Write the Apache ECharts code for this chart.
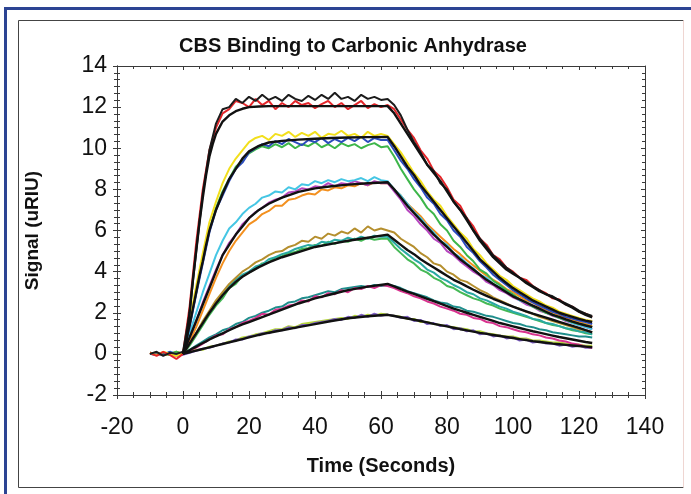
<!DOCTYPE html>
<html><head><meta charset="utf-8">
<script src="https://cdn.jsdelivr.net/npm/echarts@6/dist/echarts.min.js"></script>
<style>html,body{margin:0;padding:0;background:#fff}#c{width:691px;height:494px}</style>
</head><body><div id="c"></div>
<script>
const TITLE = 'CBS Binding to Carbonic Anhydrase';
const X_NAME = 'Time (Seconds)';
const Y_NAME = 'Signal (uRIU)';
const X_MIN = -20, X_MAX = 140, X_STEP = 20;
const Y_MIN = -2, Y_MAX = 14, Y_STEP = 2;

// sampling times of the measured (noisy) traces, seconds
const T = [-10,-8,-6,-4,-2,0,2,4,6,8,10,12,14,16,18,20,22,24,26,28,30,32,34,36,38,40,42,44,46,48,50,52,54,56,58,60,62,64,66,68,70,72,74,76,78,80,82,84,86,88,90,92,94,96,98,100,102,104,106,108,110,112,114,116,118,120,122,124];

const RED = [0.05,-0.1,0.1,-0.05,-0.25,0.0,
 2.3,5.4,8.0,9.9,11.0,11.7,11.9,12.3,12.2,12.0,12.4,12.1,12.3,11.9,12.2,12.0,12.3,12.1,12.2,11.95,12.15,12.3,12.0,12.2,11.9,12.1,12.3,11.95,12.15,12.0,12.1,
 11.9,11.4,10.9,10.5,9.9,9.5,8.9,8.6,8.1,7.5,7.2,6.6,6.2,5.6,5.3,4.8,4.6,4.2,4.0,3.7,3.6,3.3,3.1,2.95,2.7,2.65,2.4,2.3,2.05,1.95,1.8];
const BLACK_N = [0.0,0.1,-0.1,0.05,0.0,0.1,
 2.0,5.0,7.8,9.9,11.2,11.9,12.0,12.4,12.2,12.5,12.3,12.6,12.35,12.5,12.3,12.6,12.4,12.3,12.55,12.35,12.6,12.4,12.7,12.4,12.5,12.3,12.6,12.4,12.5,12.35,12.4,
 12.1,11.6,10.9,10.3,9.8,9.2,8.9,8.3,8.0,7.4,7.0,6.6,6.0,5.6,5.2,4.8,4.5,4.2,3.95,3.7,3.5,3.3,3.1,2.9,2.8,2.6,2.45,2.3,2.1,1.95,1.85];
const YELLOW = [0.05,-0.05,0.1,0.0,-0.1,0.05,
 1.6,3.3,4.9,6.4,7.4,8.3,9.0,9.5,9.9,10.3,10.5,10.6,10.4,10.7,10.6,10.8,10.55,10.75,10.6,10.8,10.5,10.7,10.65,10.85,10.6,10.7,10.5,10.8,10.6,10.7,10.6,
 10.2,9.8,9.3,8.8,8.4,7.9,7.5,7.2,6.7,6.3,5.9,5.6,5.1,4.8,4.4,4.1,3.8,3.6,3.3,3.1,2.9,2.7,2.55,2.35,2.25,2.05,1.95,1.85,1.75,1.65,1.6];
const BLUE = [0.0,0.05,-0.05,0.1,-0.05,0.0,
 1.3,2.9,4.4,5.9,7.0,7.7,8.4,9.0,9.3,9.8,10.0,10.2,10.1,10.35,10.2,10.45,10.3,10.15,10.4,10.3,10.5,10.25,10.45,10.3,10.5,10.35,10.55,10.3,10.5,10.4,10.4,
 9.9,9.4,9.0,8.5,8.1,7.6,7.3,6.8,6.5,6.0,5.7,5.2,4.9,4.5,4.2,3.85,3.6,3.35,3.1,2.9,2.7,2.5,2.35,2.2,2.05,1.95,1.8,1.72,1.62,1.55,1.45];
const GREEN = [0.0,-0.05,0.05,0.0,0.1,0.0,
 1.4,3.0,4.6,6.0,7.1,7.9,8.5,9.1,9.4,9.75,9.95,10.1,10.0,10.2,10.05,10.25,10.0,10.2,10.1,10.3,10.05,10.2,10.0,10.25,10.1,10.2,10.0,10.15,10.25,10.05,10.1,
 9.6,9.0,8.5,8.0,7.6,7.1,6.8,6.3,6.0,5.5,5.2,4.8,4.5,4.1,3.9,3.55,3.35,3.1,2.9,2.65,2.5,2.3,2.15,2.0,1.9,1.75,1.65,1.55,1.45,1.4,1.3];
const CYAN = [0.0,0.05,-0.05,0.1,0.0,0.05,
 1.0,2.0,3.0,3.9,4.8,5.5,6.1,6.4,6.8,7.1,7.3,7.6,7.7,7.9,7.85,8.1,8.0,8.25,8.2,8.4,8.3,8.45,8.35,8.5,8.4,8.45,8.55,8.4,8.6,8.45,8.4,
 8.0,7.7,7.3,6.9,6.6,6.2,5.9,5.5,5.3,4.9,4.7,4.4,4.15,3.85,3.7,3.4,3.25,3.0,2.85,2.6,2.5,2.3,2.2,2.0,1.9,1.75,1.65,1.5,1.4,1.3,1.2];
const MAGENTA = [0.0,-0.05,0.0,0.05,-0.1,0.0,
 0.8,1.6,2.5,3.3,4.1,4.8,5.4,5.8,6.3,6.6,6.9,7.1,7.35,7.5,7.6,7.85,7.9,8.05,8.0,8.15,8.1,8.3,8.15,8.3,8.25,8.4,8.3,8.2,8.4,8.3,8.3,
 7.9,7.5,7.0,6.7,6.3,6.0,5.6,5.4,5.0,4.8,4.5,4.25,4.0,3.8,3.5,3.35,3.1,2.95,2.75,2.6,2.4,2.3,2.1,2.0,1.85,1.75,1.6,1.5,1.4,1.3,1.2];
const ORANGE = [0.05,0.0,-0.05,0.0,0.1,0.0,
 0.6,1.3,2.1,2.9,3.7,4.4,5.0,5.5,5.9,6.3,6.5,6.8,6.95,7.2,7.2,7.5,7.55,7.7,7.8,7.75,8.0,7.95,8.1,8.05,8.2,8.15,8.3,8.2,8.35,8.3,8.3,
 8.0,7.7,7.3,7.0,6.7,6.3,6.0,5.7,5.4,5.1,4.85,4.55,4.3,4.05,3.8,3.6,3.4,3.15,3.0,2.8,2.6,2.5,2.3,2.15,2.0,1.9,1.75,1.65,1.55,1.45,1.35];
const OLIVE = [0.0,0.05,-0.05,0.0,0.05,0.0,
 0.5,1.0,1.6,2.1,2.6,3.0,3.4,3.7,4.0,4.2,4.45,4.6,4.8,4.95,5.0,5.2,5.3,5.5,5.45,5.7,5.6,5.85,5.75,5.95,5.85,6.1,5.9,6.2,6.0,6.1,6.0,
 5.9,5.6,5.4,5.2,4.9,4.7,4.4,4.3,4.0,3.85,3.6,3.5,3.3,3.1,2.95,2.75,2.6,2.45,2.3,2.2,2.05,1.95,1.8,1.7,1.6,1.5,1.4,1.3,1.2,1.15,1.05];
const GREEN2 = [0.05,0.0,0.0,-0.05,0.05,0.0,
 0.4,0.9,1.4,1.9,2.35,2.7,3.2,3.4,3.8,3.95,4.15,4.4,4.45,4.7,4.75,4.9,4.95,5.1,5.15,5.3,5.25,5.45,5.35,5.5,5.45,5.6,5.5,5.65,5.55,5.6,5.6,
 5.2,4.9,4.6,4.4,4.1,3.95,3.7,3.55,3.3,3.2,3.0,2.85,2.7,2.6,2.45,2.35,2.2,2.1,2.0,1.9,1.8,1.7,1.6,1.5,1.4,1.35,1.25,1.15,1.1,1.0,0.95];
const TEAL = [0.0,0.0,0.05,0.0,-0.05,0.0,
 0.5,1.0,1.5,2.0,2.45,2.9,3.3,3.6,3.85,4.0,4.25,4.35,4.6,4.7,4.85,4.95,5.1,5.2,5.3,5.25,5.45,5.4,5.55,5.5,5.65,5.55,5.7,5.6,5.75,5.7,5.7,
 5.4,5.1,4.85,4.6,4.4,4.1,3.95,3.7,3.55,3.35,3.2,3.0,2.9,2.7,2.6,2.45,2.3,2.2,2.05,1.95,1.85,1.7,1.65,1.5,1.45,1.35,1.25,1.2,1.1,1.05,0.95];
const PINK = [0.0,-0.05,0.05,0.0,-0.1,0.0,
 0.15,0.3,0.5,0.7,0.9,0.95,1.2,1.3,1.5,1.6,1.75,1.95,1.9,2.15,2.2,2.35,2.4,2.6,2.55,2.8,2.75,2.95,2.9,3.1,3.0,3.2,3.15,3.3,3.2,3.35,3.3,
 3.2,3.05,2.95,2.8,2.7,2.55,2.45,2.3,2.2,2.1,1.95,1.9,1.75,1.7,1.55,1.5,1.35,1.3,1.2,1.1,1.05,0.95,0.9,0.8,0.75,0.65,0.6,0.5,0.45,0.35,0.3];
const TEAL2 = [0.05,0.0,-0.05,0.05,0.0,0.0,
 0.2,0.4,0.6,0.8,0.95,1.15,1.25,1.45,1.55,1.75,1.85,2.0,2.1,2.25,2.3,2.5,2.55,2.7,2.75,2.85,2.95,3.05,3.0,3.15,3.2,3.25,3.3,3.25,3.35,3.3,3.35,
 3.3,3.2,3.05,2.95,2.85,2.75,2.6,2.5,2.45,2.3,2.25,2.1,2.05,1.95,1.85,1.8,1.7,1.6,1.5,1.45,1.35,1.3,1.2,1.15,1.05,1.0,0.95,0.9,0.85,0.85,0.8];
const PURPLE = [0.0,0.05,-0.05,0.1,0.0,-0.05,
 0.05,0.15,0.25,0.3,0.4,0.5,0.55,0.7,0.7,0.85,0.9,1.0,1.0,1.15,1.15,1.3,1.25,1.4,1.4,1.5,1.55,1.6,1.7,1.65,1.8,1.75,1.9,1.8,1.95,1.85,1.9,
 1.85,1.75,1.8,1.6,1.65,1.45,1.5,1.35,1.4,1.2,1.25,1.1,1.15,0.95,1.0,0.85,0.9,0.75,0.8,0.65,0.7,0.55,0.6,0.5,0.5,0.4,0.45,0.35,0.4,0.3,0.3];
const YGREEN = [0.05,0.0,0.05,-0.05,0.0,0.0,
 0.1,0.2,0.2,0.35,0.4,0.5,0.6,0.65,0.8,0.85,0.95,1.0,1.1,1.2,1.2,1.35,1.3,1.45,1.5,1.55,1.6,1.65,1.7,1.75,1.7,1.85,1.8,1.9,1.85,1.95,1.9,
 1.85,1.8,1.7,1.7,1.55,1.55,1.45,1.4,1.35,1.3,1.25,1.2,1.1,1.1,1.0,0.95,0.9,0.85,0.85,0.75,0.75,0.65,0.65,0.6,0.55,0.55,0.5,0.45,0.45,0.4,0.4];

// fitted model curves (black)
const FIT_T = [0,1,2,3,4,5,6,7,8,9,10,12,14,16,18,20,23,26,30,35,40,45,50,56,62,64,66,68,70,72,74,76,78,80,82,84,86,88,90,92,94,96,98,100,102,104,106,108,110,112,114,116,118,120,122,124];
const FIT1 = [0,0.5,2.0,3.6,5.0,6.4,7.6,8.7,9.6,10.2,10.7,11.3,11.6,11.8,11.92,12.0,12.03,12.05,12.05,12.05,12.05,12.05,12.05,12.05,12.05,
 11.7,11.2,10.7,10.2,9.7,9.2,8.8,8.4,7.9,7.4,7.0,6.5,6.0,5.5,5.1,4.7,4.4,4.1,3.9,3.7,3.45,3.25,3.05,2.9,2.75,2.6,2.4,2.25,2.05,1.9,1.78];
const FIT2 = [0,0.7,1.4,2.2,3.0,3.8,4.5,5.3,6.0,6.5,7.0,7.8,8.5,9.0,9.5,9.85,10.12,10.28,10.36,10.42,10.46,10.5,10.52,10.54,10.55,
 10.1,9.6,9.1,8.7,8.2,7.8,7.4,7.0,6.6,6.2,5.8,5.4,5.0,4.6,4.3,4.0,3.7,3.45,3.2,3.0,2.8,2.6,2.45,2.3,2.15,2.0,1.9,1.8,1.7,1.62,1.55];
const FIT3 = [0,0.4,0.8,1.2,1.6,2.0,2.4,2.8,3.2,3.6,4.0,4.8,5.3,5.8,6.2,6.6,7.0,7.3,7.6,7.88,8.05,8.15,8.23,8.3,8.35,
 8.0,7.6,7.2,6.85,6.5,6.15,5.8,5.5,5.2,4.9,4.6,4.35,4.1,3.85,3.6,3.4,3.2,3.0,2.8,2.65,2.5,2.35,2.2,2.05,1.9,1.8,1.68,1.57,1.47,1.38,1.3];
const FIT4 = [0,0.25,0.5,0.75,1.0,1.25,1.5,1.75,2.0,2.22,2.45,2.85,3.2,3.5,3.75,3.95,4.22,4.45,4.7,4.95,5.2,5.35,5.5,5.65,5.8,
 5.55,5.3,5.05,4.85,4.6,4.4,4.2,4.0,3.8,3.6,3.45,3.28,3.12,2.97,2.82,2.68,2.55,2.42,2.3,2.18,2.07,1.96,1.86,1.76,1.66,1.56,1.46,1.36,1.26,1.15,1.05];
const FIT5 = [0,0.09,0.18,0.27,0.35,0.44,0.53,0.61,0.7,0.78,0.85,1.0,1.15,1.3,1.43,1.55,1.73,1.91,2.15,2.45,2.7,2.9,3.1,3.27,3.4,
 3.28,3.15,3.03,2.92,2.8,2.68,2.56,2.44,2.32,2.2,2.1,2.0,1.9,1.8,1.7,1.6,1.5,1.42,1.34,1.26,1.18,1.1,1.03,0.96,0.89,0.82,0.76,0.7,0.64,0.58,0.53];
const FIT6 = [0,0.04,0.08,0.12,0.16,0.2,0.24,0.28,0.32,0.36,0.4,0.48,0.56,0.64,0.72,0.8,0.92,1.03,1.15,1.3,1.45,1.6,1.73,1.83,1.9,
 1.84,1.78,1.72,1.66,1.6,1.53,1.46,1.4,1.34,1.27,1.2,1.14,1.08,1.02,0.97,0.92,0.87,0.82,0.77,0.72,0.67,0.62,0.58,0.54,0.5,0.47,0.44,0.41,0.38,0.35,0.32];

const TRACES = [
  {v: YGREEN, c: '#b5d63c'}, {v: PURPLE, c: '#8062c6'},
  {v: TEAL2, c: '#1f8e8c'}, {v: PINK, c: '#d8338e'},
  {v: GREEN2, c: '#45b956'}, {v: TEAL, c: '#2aa9a3'}, {v: OLIVE, c: '#b58f2e'},
  {v: ORANGE, c: '#f3901f'}, {v: MAGENTA, c: '#b746bf'}, {v: CYAN, c: '#45c6e4'},
  {v: GREEN, c: '#3db64a'}, {v: BLUE, c: '#2b4cbd'}, {v: YELLOW, c: '#f2df1c'},
  {v: RED, c: '#e4262a'}, {v: BLACK_N, c: '#1b1b1b'}
];
const FITS = [FIT1, FIT2, FIT3, FIT4, FIT5, FIT6];

const FONT = 'Liberation Sans, Arial, Helvetica, sans-serif';
const AX = '#3a3a3a';

const series = [];
TRACES.forEach(tr => series.push({
  type: 'line', data: T.map((t, i) => [t, tr.v[i]]), showSymbol: false, symbol: 'none',
  lineStyle: {color: tr.c, width: 2}, z: 2, silent: true
}));
FITS.forEach(f => series.push({
  type: 'line', data: FIT_T.map((t, i) => [t, f[i]]), showSymbol: false, symbol: 'none',
  lineStyle: {color: '#111', width: 2.4}, z: 3, silent: true
}));

function xAx(extra) {
  return Object.assign({
    type: 'value', min: X_MIN, max: X_MAX, interval: X_STEP, gridIndex: 0,
    axisLine: {show: true, onZero: false, lineStyle: {color: AX, width: 1}},
    axisTick: {show: true, inside: false, length: 4, lineStyle: {color: AX}},
    minorTick: {show: true, splitNumber: 4, length: 3, lineStyle: {color: AX}},
    splitLine: {show: false}, minorSplitLine: {show: false},
    axisLabel: {show: false}
  }, extra);
}
function yAx(extra) {
  return Object.assign({
    type: 'value', min: Y_MIN, max: Y_MAX, interval: Y_STEP, gridIndex: 0,
    axisLine: {show: true, onZero: false, lineStyle: {color: AX, width: 1}},
    axisTick: {show: true, inside: false, length: 4, lineStyle: {color: AX}},
    minorTick: {show: true, splitNumber: 6, length: 3, lineStyle: {color: AX}},
    splitLine: {show: false}, minorSplitLine: {show: false},
    axisLabel: {show: false}
  }, extra);
}

const chart = echarts.init(document.getElementById('c'), null, {renderer: 'canvas'});
chart.setOption({
  animation: false,
  backgroundColor: '#fff',
  title: {text: TITLE, left: 348, top: 31, textAlign: 'center',
    textStyle: {fontFamily: FONT, fontSize: 20, fontWeight: 'bold', color: '#111'}},
  grid: {left: 117, right: 46, top: 66, bottom: 99, containLabel: false},
  xAxis: [
    xAx({position: 'bottom',
      axisLabel: {show: true, fontFamily: FONT, fontSize: 23, color: '#111', margin: 21},
      name: X_NAME, nameLocation: 'middle', nameGap: 61,
      nameTextStyle: {fontFamily: FONT, fontSize: 20, fontWeight: 'bold', color: '#111'}}),
    xAx({position: 'bottom', axisTick: {show: true, inside: true, length: 4, lineStyle: {color: AX}},
      minorTick: {show: true, splitNumber: 4, length: 3, lineStyle: {color: AX}}}),
    xAx({position: 'top', axisTick: {show: true, inside: true, length: 4, lineStyle: {color: AX}},
      minorTick: {show: true, splitNumber: 4, length: 3, lineStyle: {color: AX}}})
  ],
  yAxis: [
    yAx({position: 'left',
      axisLabel: {show: true, fontFamily: FONT, fontSize: 23, color: '#111', margin: 10},
      name: Y_NAME, nameLocation: 'middle', nameGap: 75,
      nameTextStyle: {fontFamily: FONT, fontSize: 19, fontWeight: 'bold', color: '#111'}}),
    yAx({position: 'left', axisTick: {show: true, inside: true, length: 4, lineStyle: {color: AX}},
      minorTick: {show: true, splitNumber: 6, length: 3, lineStyle: {color: AX}}}),
    yAx({position: 'right', axisTick: {show: true, inside: true, length: 4, lineStyle: {color: AX}},
      minorTick: {show: true, splitNumber: 6, length: 3, lineStyle: {color: AX}}})
  ],
  series: series,
  graphic: [
    {type: 'rect', shape: {x: 4, y: 7, width: 700, height: 3}, style: {fill: '#2c4493'}, silent: true},
    {type: 'rect', shape: {x: 4, y: 7, width: 3, height: 500}, style: {fill: '#2c4493'}, silent: true},
    {type: 'line', shape: {x1: 18.5, y1: 20.5, x2: 683.5, y2: 20.5}, style: {stroke: '#444', lineWidth: 1}, silent: true},
    {type: 'line', shape: {x1: 18.5, y1: 20.5, x2: 18.5, y2: 487.5}, style: {stroke: '#444', lineWidth: 1}, silent: true},
    {type: 'line', shape: {x1: 18.5, y1: 487.5, x2: 683.5, y2: 487.5}, style: {stroke: '#444', lineWidth: 1}, silent: true},
    {type: 'line', shape: {x1: 683.5, y1: 20.5, x2: 683.5, y2: 487.5}, style: {stroke: '#efd6d2', lineWidth: 1}, silent: true}
  ]
});
</script></body></html>
